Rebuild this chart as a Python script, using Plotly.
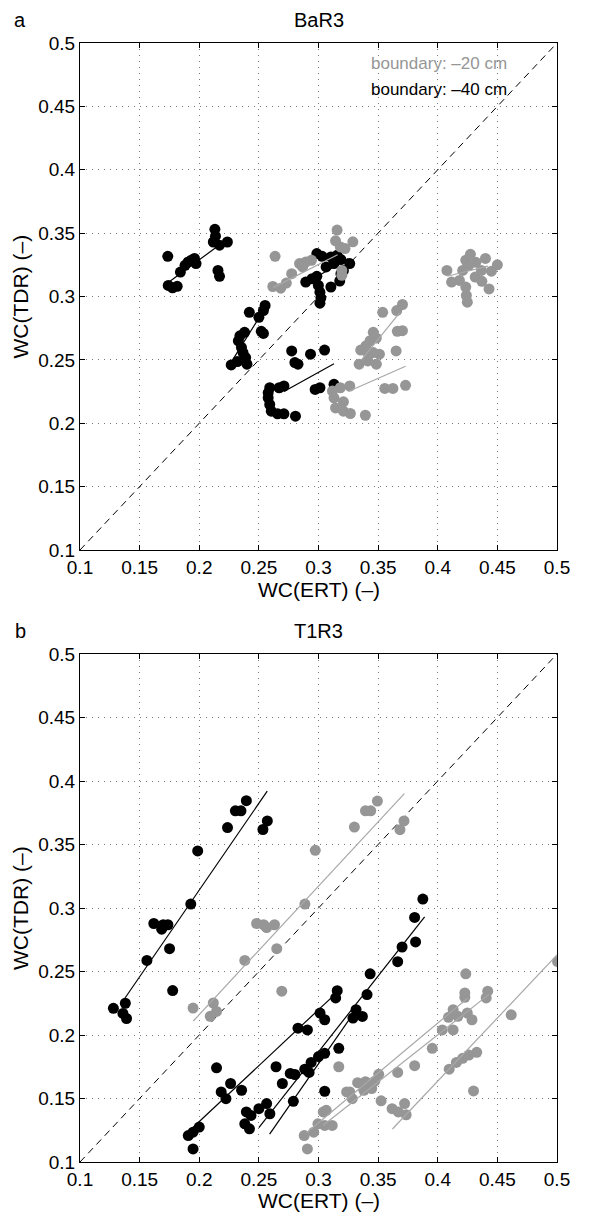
import plotly.graph_objects as go

# ---------------- data ----------------
TICK_VALS = [0.1, 0.15, 0.2, 0.25, 0.3, 0.35, 0.4, 0.45, 0.5]
TICK_TEXT = ["0.1", "0.15", "0.2", "0.25", "0.3", "0.35", "0.4", "0.45", "0.5"]
ONE_TO_ONE = [0.1, 0.5]

# Panel a (BaR3) - boundary -40 cm (black)
a_black_x = [0.1736, 0.174, 0.1776, 0.1815, 0.1842, 0.1881, 0.1907, 0.1933, 0.196, 0.1973,
             0.2131, 0.2136, 0.2118, 0.217, 0.2236, 0.2157, 0.217,
             0.242, 0.2552, 0.2538, 0.25, 0.2341, 0.238, 0.2328, 0.2354, 0.2367, 0.2389,
             0.2268, 0.232, 0.24, 0.252, 0.2538,
             0.2578, 0.2591, 0.267, 0.271, 0.2578, 0.2591, 0.2604, 0.2657, 0.271, 0.2807,
             0.2972, 0.3012, 0.313, 0.2775, 0.2802, 0.2828, 0.2933, 0.3051,
             0.2986, 0.303, 0.3104, 0.3156, 0.3188, 0.3262, 0.3064, 0.313, 0.3209, 0.2893,
             0.2946, 0.2986, 0.2999, 0.3012, 0.302, 0.3012, 0.3104, 0.3178, 0.3188]
a_black_y = [0.3317, 0.3087, 0.3069, 0.308, 0.3193, 0.3246, 0.3273, 0.3286, 0.33, 0.326,
             0.353, 0.3476, 0.343, 0.3405, 0.343, 0.3206, 0.3159,
             0.2875, 0.2929, 0.2889, 0.2836, 0.269, 0.2717, 0.265, 0.2598, 0.2558, 0.2518,
             0.246, 0.2487, 0.2466, 0.2725, 0.2709,
             0.224, 0.228, 0.228, 0.2294, 0.2201, 0.2148, 0.2095, 0.2074, 0.2074, 0.2056,
             0.2267, 0.228, 0.2307, 0.2571, 0.2479, 0.2466, 0.2545, 0.2577,
             0.3339, 0.3317, 0.3312, 0.3325, 0.3291, 0.326, 0.3233, 0.326, 0.3206, 0.3114,
             0.314, 0.3159, 0.3087, 0.3034, 0.299, 0.2947, 0.3075, 0.3122, 0.318]

# Panel a (BaR3) - boundary -20 cm (grey)
a_grey_x = [0.2636, 0.2617, 0.2683, 0.273, 0.2775, 0.2841, 0.2893, 0.2941, 0.2867, 0.3156,
            0.3143, 0.3183, 0.3222, 0.3288, 0.3196, 0.3196,
            0.3538, 0.3656, 0.3704, 0.3661, 0.3704, 0.3651, 0.3459, 0.3485, 0.3433, 0.3398,
            0.3354, 0.3341, 0.3414, 0.3485, 0.3511, 0.3459, 0.342,
            0.3117, 0.3183, 0.3262, 0.313, 0.3209, 0.3143, 0.3209, 0.3267, 0.3393, 0.3556,
            0.3624, 0.373,
            0.4077, 0.4116, 0.4182, 0.4209, 0.4235, 0.4261, 0.4235, 0.424, 0.4248, 0.4314,
            0.4366, 0.4274, 0.44, 0.445, 0.45, 0.437, 0.443, 0.432]
a_grey_y = [0.3317, 0.3079, 0.3066, 0.3106, 0.318, 0.326, 0.3272, 0.3286, 0.3233, 0.3524,
            0.3439, 0.3391, 0.3378, 0.3431, 0.3206, 0.3167,
            0.2875, 0.2889, 0.2937, 0.2725, 0.273, 0.2571, 0.2717, 0.2672, 0.2651, 0.2611,
            0.2577, 0.2466, 0.2492, 0.2466, 0.2545, 0.2558, 0.254,
            0.2254, 0.228, 0.2294, 0.2201, 0.2169, 0.2121, 0.2095, 0.2077, 0.2063, 0.2275,
            0.2275, 0.2299,
            0.3206, 0.3114, 0.3127, 0.3206, 0.3286, 0.3246, 0.3074, 0.3008, 0.2955, 0.3153,
            0.3206, 0.3333, 0.33, 0.32, 0.325, 0.312, 0.306, 0.327]

# Panel a regression segments (endpoints)
a_black_fit_x = [[0.174, 0.216], [0.228, 0.256], [0.271, 0.313], [0.292, 0.325]]
a_black_fit_y = [[0.311, 0.340], [0.250, 0.292], [0.225, 0.247], [0.312, 0.330]]
a_grey_fit_x = [[0.262, 0.316], [0.336, 0.368], [0.325, 0.373], [0.408, 0.442]]
a_grey_fit_y = [[0.307, 0.333], [0.250, 0.287], [0.225, 0.245], [0.316, 0.324]]

# Panel b (T1R3) - boundary -40 cm (black)
b_black_x = [0.128, 0.138, 0.136, 0.139, 0.1561, 0.1619, 0.1685, 0.1698, 0.1737, 0.1751,
             0.1777, 0.1929, 0.1987, 0.2237, 0.2303, 0.235, 0.2395, 0.2534, 0.2571,
             0.1908, 0.1948, 0.2, 0.1948, 0.2145, 0.2184, 0.2224, 0.2263, 0.2355, 0.2644,
             0.2697, 0.2828, 0.2907, 0.3013, 0.3052, 0.3144, 0.3157,
             0.2382, 0.2421, 0.2434, 0.2395, 0.25, 0.2565, 0.2592, 0.2763, 0.2802, 0.2789,
             0.2885, 0.2921, 0.2938, 0.3, 0.3052, 0.317, 0.3052, 0.3289, 0.3368, 0.3315,
             0.3407, 0.3433, 0.3664, 0.3701, 0.3814, 0.3806, 0.3875]
b_black_y = [0.221, 0.225, 0.217, 0.213, 0.2587, 0.2878, 0.2833, 0.2868, 0.2868, 0.268,
             0.235, 0.3031, 0.3449, 0.3633, 0.3765, 0.3765, 0.3845, 0.3618, 0.3686,
             0.1208, 0.1235, 0.1275, 0.1103, 0.1742, 0.1552, 0.1499, 0.1618, 0.1565, 0.175,
             0.1618, 0.2054, 0.204, 0.2173, 0.212, 0.2292, 0.2349,
             0.1301, 0.1261, 0.1367, 0.1394, 0.142, 0.146, 0.138, 0.1697, 0.1689, 0.1478,
             0.1731, 0.1705, 0.1784, 0.183, 0.1856, 0.1895, 0.1557, 0.2133, 0.2146, 0.2199,
             0.2318, 0.2482, 0.2577, 0.2693, 0.2733, 0.2926, 0.307]

# Panel b (T1R3) - boundary -20 cm (grey)
b_grey_x = [0.1948, 0.2118, 0.2092, 0.2145, 0.2382, 0.2481, 0.254, 0.2565, 0.2631, 0.265,
            0.2692, 0.2886, 0.2973, 0.3301, 0.3394, 0.3438, 0.3494, 0.3683, 0.3717,
            0.288, 0.2907, 0.296, 0.2995, 0.3052, 0.3115, 0.304, 0.3065, 0.317, 0.3236,
            0.3262, 0.3283, 0.3328, 0.3394, 0.338, 0.3446, 0.3472, 0.3505, 0.3525, 0.3617,
            0.3669, 0.3722, 0.3735, 0.3664, 0.3806, 0.3954, 0.4038, 0.4129, 0.409, 0.4129,
            0.4169, 0.4248, 0.4287, 0.4227, 0.4227, 0.4235, 0.4406, 0.4419, 0.4096, 0.4156,
            0.4209, 0.4261, 0.4327, 0.43, 0.4616, 0.5005]
b_grey_y = [0.2212, 0.2252, 0.2147, 0.2186, 0.2587, 0.2878, 0.2868, 0.2846, 0.2868, 0.268,
            0.2345, 0.3031, 0.3454, 0.3637, 0.3765, 0.3765, 0.3842, 0.3617, 0.3686,
            0.1208, 0.1103, 0.1235, 0.1301, 0.1288, 0.1288, 0.1394, 0.1407, 0.175, 0.1552,
            0.1552, 0.1499, 0.1625, 0.1632, 0.1565, 0.1578, 0.1636, 0.169, 0.1482, 0.142,
            0.1394, 0.146, 0.1372, 0.1705, 0.1758, 0.1895, 0.204, 0.204, 0.2139, 0.2199,
            0.2147, 0.2173, 0.212, 0.2297, 0.2331, 0.2482, 0.2292, 0.2345, 0.1731, 0.1784,
            0.1816, 0.1842, 0.1864, 0.156, 0.2159, 0.2577]

# Panel b regression segments (endpoints)
b_black_fit_x = [[0.134, 0.257], [0.19, 0.316], [0.25, 0.389], [0.259, 0.333]]
b_black_fit_y = [[0.224, 0.392], [0.123, 0.234], [0.127, 0.293], [0.122, 0.222]]
b_grey_fit_x = [[0.195, 0.372], [0.29, 0.425], [0.304, 0.443], [0.362, 0.5]]
b_grey_fit_y = [[0.211, 0.390], [0.123, 0.229], [0.129, 0.232], [0.126, 0.263]]

PANEL_TITLES = ["BaR3", "T1R3"]
PANEL_LETTERS = ["a", "b"]
LEGEND_TEXT = ["boundary: \u201320 cm", "boundary: \u201340 cm"]
LEGEND_POS_X = [0.342, 0.342]
LEGEND_POS_Y = [0.484, 0.463]
X_TITLE = "WC(ERT) (\u2013)"
Y_TITLE = "WC(TDR) (\u2013)"

# ---------------- styles ----------------
BLACK = "#000000"
GREY = "#969696"
GREY_LINE = "#a8a8a8"
FONT = "Liberation Sans, Arial, Helvetica, sans-serif"

fig = go.Figure()

panels = [
    ("x", "y", a_black_x, a_black_y, a_grey_x, a_grey_y,
     a_black_fit_x, a_black_fit_y, a_grey_fit_x, a_grey_fit_y),
    ("x2", "y2", b_black_x, b_black_y, b_grey_x, b_grey_y,
     b_black_fit_x, b_black_fit_y, b_grey_fit_x, b_grey_fit_y),
]

for xa, ya, bx, by, gx, gy, bfx, bfy, gfx, gfy in panels:
    fig.add_trace(go.Scatter(x=ONE_TO_ONE, y=ONE_TO_ONE, xaxis=xa, yaxis=ya, mode="lines",
                             line=dict(color=BLACK, width=1, dash="7px,5px"),
                             showlegend=False, hoverinfo="skip"))
    fig.add_trace(go.Scatter(x=bx, y=by, xaxis=xa, yaxis=ya, mode="markers",
                             marker=dict(color=BLACK, size=11, line=dict(width=0)),
                             showlegend=False))
    fig.add_trace(go.Scatter(x=gx, y=gy, xaxis=xa, yaxis=ya, mode="markers",
                             marker=dict(color=GREY, size=11, line=dict(width=0)),
                             showlegend=False))
    for sx, sy in zip(bfx, bfy):
        fig.add_trace(go.Scatter(x=sx, y=sy, xaxis=xa, yaxis=ya, mode="lines",
                                 line=dict(color=BLACK, width=1.2),
                                 showlegend=False, hoverinfo="skip"))
    for sx, sy in zip(gfx, gfy):
        fig.add_trace(go.Scatter(x=sx, y=sy, xaxis=xa, yaxis=ya, mode="lines",
                                 line=dict(color=GREY_LINE, width=1.2),
                                 showlegend=False, hoverinfo="skip"))

axis_style = dict(
    range=[0.1, 0.5], tickvals=TICK_VALS, ticktext=TICK_TEXT,
    showgrid=True, gridcolor="#7a7a7a", griddash="1px,5px", gridwidth=1,
    showline=True, linecolor=BLACK, linewidth=1, mirror="allticks",
    ticks="inside", ticklen=5, tickcolor=BLACK, tickwidth=1,
    zeroline=False, tickfont=dict(family=FONT, size=19, color=BLACK),
)

# plot area in page pixels: x 72..549, panel a y 35..542, panel b y 646..1154
W, HT = 605, 1214
L, R, T, B = 72, 56, 35, 60
H = HT - T - B
def py(pix):  # page pixel -> paper y
    return (HT - B - pix) / H
def px(pix):  # page pixel -> paper x
    return (pix - L) / (W - L - R)

fig.update_layout(
    width=W, height=HT,
    margin=dict(l=L, r=R, t=T, b=B),
    paper_bgcolor="white", plot_bgcolor="white",
    font=dict(family=FONT, size=20, color=BLACK),
    xaxis=dict(domain=[0, 1], anchor="y", **axis_style),
    yaxis=dict(domain=[py(542), 1], anchor="x", **axis_style),
    xaxis2=dict(domain=[0, 1], anchor="y2", **axis_style),
    yaxis2=dict(domain=[0, py(646)], anchor="x2", **axis_style),
    showlegend=False,
)

ann = []
tops = [35, 646]
bottoms = [542, 1154]
xtitle_gap = [39, 38]
for i in range(2):
    ann.append(dict(text=PANEL_TITLES[i], xref="paper", yref="paper", x=0.5, y=py(tops[i] - 23),
                    xanchor="center", yanchor="middle", showarrow=False, font=dict(size=20)))
    ann.append(dict(text=PANEL_LETTERS[i], xref="paper", yref="paper", x=px(12), y=py(tops[i] - 23),
                    xanchor="center", yanchor="middle", showarrow=False, font=dict(size=20)))
    ann.append(dict(text=X_TITLE, xref="paper", yref="paper", x=0.5,
                    y=py(bottoms[i] + xtitle_gap[i]),
                    xanchor="center", yanchor="middle", showarrow=False, font=dict(size=21)))
    ann.append(dict(text=Y_TITLE, xref="paper", yref="paper", x=px(12),
                    y=py((tops[i] + bottoms[i]) / 2), textangle=-90,
                    xanchor="center", yanchor="middle", showarrow=False, font=dict(size=21)))

# legend-like labels inside panel a
ann.append(dict(text=LEGEND_TEXT[0], xref="x", yref="y", x=LEGEND_POS_X[0], y=LEGEND_POS_Y[0],
                xanchor="left", yanchor="middle", showarrow=False, font=dict(size=17, color=GREY)))
ann.append(dict(text=LEGEND_TEXT[1], xref="x", yref="y", x=LEGEND_POS_X[1], y=LEGEND_POS_Y[1],
                xanchor="left", yanchor="middle", showarrow=False, font=dict(size=17, color=BLACK)))

fig.update_layout(annotations=ann)
fig.write_html("out.html")
